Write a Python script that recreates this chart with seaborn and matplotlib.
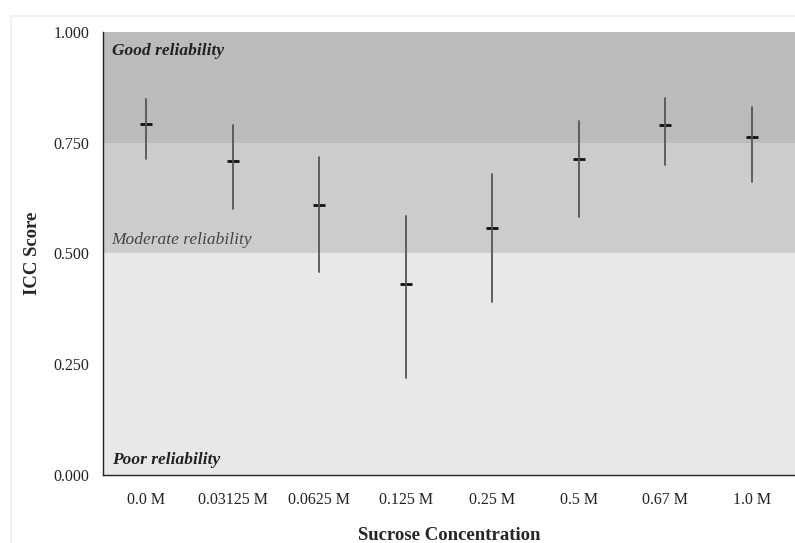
import numpy as np
import pandas as pd
import matplotlib.pyplot as plt
from matplotlib.lines import Line2D
import seaborn as sns

# ICC estimates with 95% CI
concentrations = ['0.0 M', '0.03125 M', '0.0625 M', '0.125 M', '0.25 M', '0.5 M', '0.67 M', '1.0 M']
icc_mean = [0.792, 0.709, 0.609, 0.432, 0.557, 0.713, 0.789, 0.763]
icc_low = [0.713, 0.600, 0.459, 0.218, 0.390, 0.582, 0.699, 0.661]
icc_high = [0.849, 0.789, 0.717, 0.585, 0.679, 0.800, 0.850, 0.831]

band_edges = [0.0, 0.5, 0.75, 1.0]
band_colors = ['#e8e8e8', '#cccccc', '#bbbbbb']
yticks = [0.0, 0.25, 0.5, 0.75, 1.0]

# long form: low / mean / high per concentration -> median + full range interval
df = pd.DataFrame({
    'conc': np.repeat(concentrations, 3),
    'icc': np.column_stack([icc_low, icc_mean, icc_high]).ravel(),
})

sns.set_style('white')
plt.rcParams['font.family'] = ['Liberation Serif', 'DejaVu Serif']

fig = plt.figure(figsize=(7.95, 5.43), dpi=100)
ax = fig.add_axes([0.1296, 0.1252, 0.8704, 0.8159])

for lo, hi, c in zip(band_edges[:-1], band_edges[1:], band_colors):
    ax.axhspan(lo, hi, color=c, zorder=0, lw=0)

sns.pointplot(data=df, x='conc', y='icc', order=concentrations,
              estimator='median', errorbar=('pi', 100),
              linestyle='none', marker='_', markersize=8, markeredgewidth=2.0,
              color='#111111', err_kws={'color': '#555555', 'linewidth': 1.3},
              ax=ax, zorder=3)

ax.set_xlim(-0.5, 7.5)
ax.set_ylim(0, 1)
ax.set_yticks(yticks)
ax.set_yticklabels([f'{t:.3f}' for t in yticks])
ax.tick_params(axis='both', length=0, labelsize=11.5, colors='#222222')
ax.tick_params(axis='y', pad=10)
ax.tick_params(axis='x', pad=12)

for s in ['top', 'right']:
    ax.spines[s].set_visible(False)
for s in ['left', 'bottom']:
    ax.spines[s].set_color('#222222')
    ax.spines[s].set_linewidth(1.0)

ax.set_xlabel('Sucrose Concentration', fontsize=13.5, fontweight='bold', labelpad=14)
ax.set_ylabel('ICC Score', fontsize=13.5, fontweight='bold', labelpad=9)

ax.text(0.013, 0.958, 'Good reliability', transform=ax.transAxes,
        fontsize=12.5, fontstyle='italic', fontweight='bold', color='#222222', va='center')
ax.text(0.012, 0.53, 'Moderate reliability', transform=ax.transAxes,
        fontsize=12.5, fontstyle='italic', color='#444444', va='center')
ax.text(0.013, 0.034, 'Poor reliability', transform=ax.transAxes,
        fontsize=12.5, fontstyle='italic', fontweight='bold', color='#222222', va='center')

# faint outer frame
fig.add_artist(Line2D([11 / 795, 1], [1 - 16 / 543] * 2, transform=fig.transFigure,
                      color='#eeeeee', lw=1.2))
fig.add_artist(Line2D([11 / 795] * 2, [0, 1 - 16 / 543], transform=fig.transFigure,
                      color='#eeeeee', lw=1.2))

fig.savefig('out.png', dpi=100)
